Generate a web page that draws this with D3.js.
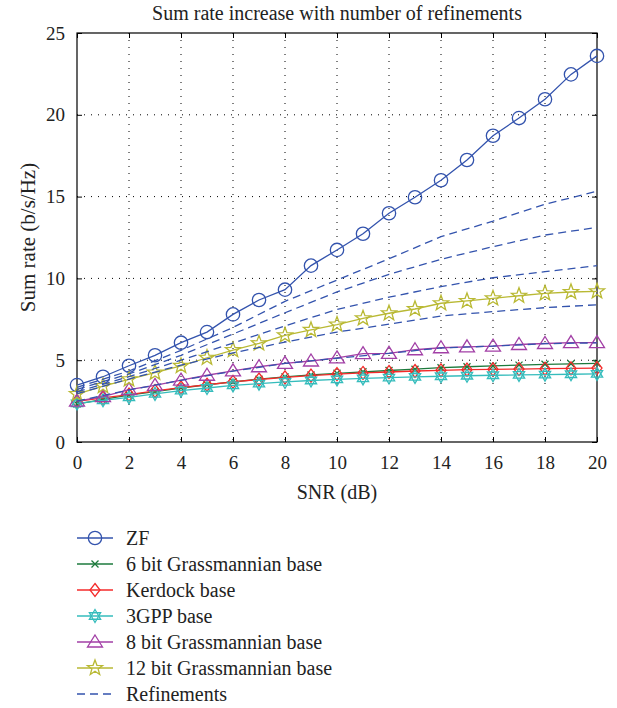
<!DOCTYPE html>
<html>
<head>
<meta charset="utf-8">
<script src="https://cdn.jsdelivr.net/npm/d3@7"></script>
<style>
  body { margin: 0; background: #fff; }
  svg text { font-family: "Liberation Serif", "Times New Roman", Times, "DejaVu Serif", "Noto Serif", serif !important; fill: #222; }
</style>
</head>
<body>
<div id="chart"></div>
<script>
// SNR points (dB)
const snr = d3.range(0, 21);
const snrEven = d3.range(0, 21, 2);

// base codebooks
const zf = [3.48, 3.99, 4.66, 5.3, 6.07, 6.72, 7.8, 8.68, 9.31, 10.78, 11.74, 12.73, 13.98, 14.96, 16.0, 17.24, 18.72, 19.8, 20.95, 22.47, 23.6];
const grass6 = [2.32, 2.6, 2.86, 3.08, 3.3, 3.5, 3.68, 3.84, 3.98, 4.1, 4.2, 4.29, 4.37, 4.45, 4.54, 4.6, 4.65, 4.7, 4.75, 4.78, 4.81];
const kerdock = [2.48, 2.7, 2.9, 3.12, 3.33, 3.5, 3.68, 3.82, 3.95, 4.06, 4.15, 4.22, 4.28, 4.34, 4.38, 4.42, 4.44, 4.46, 4.48, 4.5, 4.52];
const gpp3 = [2.36, 2.55, 2.73, 2.94, 3.14, 3.3, 3.46, 3.57, 3.67, 3.76, 3.83, 3.89, 3.94, 3.98, 4.02, 4.05, 4.08, 4.1, 4.12, 4.14, 4.16];
const grass8 = [2.5, 2.77, 3.2, 3.46, 3.78, 4.08, 4.35, 4.6, 4.81, 4.95, 5.14, 5.4, 5.42, 5.64, 5.76, 5.82, 5.86, 5.96, 6.02, 6.08, 6.08];
const grass12 = [2.93, 3.42, 3.83, 4.24, 4.65, 5.15, 5.62, 6.03, 6.52, 6.85, 7.18, 7.56, 7.87, 8.13, 8.48, 8.62, 8.78, 8.94, 9.09, 9.17, 9.21];

// refinements (dashed), read at even SNR
const ref1 = [3.34, 4.34, 5.6, 7.0, 8.6, 9.9, 11.2, 12.55, 13.5, 14.53, 15.33];
const ref2 = [3.22, 4.16, 5.3, 6.6, 7.9, 9.17, 10.25, 11.17, 11.94, 12.65, 13.12];
const ref3 = [3.07, 3.99, 5.0, 6.05, 7.1, 8.1, 8.85, 9.5, 10.04, 10.41, 10.78];
const ref4 = [2.95, 3.85, 4.7, 5.45, 6.1, 6.72, 7.2, 7.7, 7.97, 8.21, 8.39];
const ref5 = [2.5, 3.18, 3.77, 4.33, 4.8, 5.12, 5.42, 5.75, 5.86, 6.01, 6.06];

const xTicks = d3.range(0, 21, 2);
const yTicks = [0, 5, 10, 15, 20, 25];

const seriesNames = ['ZF', '6 bit Grassmannian base', 'Kerdock base', '3GPP base', '8 bit Grassmannian base', '12 bit Grassmannian base', 'Refinements'];

const FONT = '"Liberation Serif", "Times New Roman", Times, "DejaVu Serif", serif';

const Chart = {
  init() {
    this.wrapper = document.querySelector('#chart');
    this.setVar();
    this.create();
    this.scales();
    this.axis();
    this.createSeries();
    this.createLegend();
  },

  setVar() {
    this.blue = '#3353ad';
    this.green = '#1d7a3c';
    this.red = '#f42a2a';
    this.cyan = '#35bcbc';
    this.purple = '#a23fa6';
    this.olive = '#b9b934';

    this.margin = { left: 77, right: 20, top: 33, bottom: 266 };
    this.fullWidth = 617;
    this.fullHeight = 708;
    this.width = this.fullWidth - this.margin.left - this.margin.right;
    this.height = this.fullHeight - this.margin.top - this.margin.bottom;
  },

  create() {
    this.svg = d3.select('#chart').append('svg')
      .attr('width', this.fullWidth)
      .attr('height', this.fullHeight)
      .attr('font-family', FONT);

    this.g = this.svg.append('g')
      .attr('transform', `translate(${this.margin.left} ${this.margin.top})`);
  },

  scales() {
    this.x = d3.scaleLinear().domain([0, 20]).range([0, this.width]);
    this.y = d3.scaleLinear().domain([0, 25]).range([this.height, 0]);
  },

  axis() {
    const { x, y, width, height } = this;

    // dotted grid
    const grid = this.g.append('g').attr('class', 'grid');
    grid.selectAll('.gx').data(xTicks.slice(1, -1)).join('line')
      .attr('x1', (d) => x(d)).attr('x2', (d) => x(d))
      .attr('y1', 0).attr('y2', height);
    grid.selectAll('.gy').data(yTicks.slice(1, -1)).join('line')
      .attr('class', 'gy')
      .attr('x1', 0).attr('x2', width)
      .attr('y1', (d) => y(d)).attr('y2', (d) => y(d));
    grid.selectAll('line')
      .attr('stroke', '#000')
      .attr('stroke-width', 1)
      .attr('stroke-dasharray', '1,6');

    // axes with ticks pointing inward
    const ax = d3.axisBottom(x).tickValues(xTicks).tickSize(-5).tickPadding(14);
    const axCall = this.g.append('g').attr('transform', `translate(0, ${height})`).call(ax);
    const axTop = this.g.append('g').call(d3.axisTop(x).tickValues(xTicks).tickSize(-5).tickFormat(''));
    const ay = d3.axisLeft(y).tickValues(yTicks).tickSize(-5).tickPadding(12);
    const ayCall = this.g.append('g').call(ay);
    const ayRight = this.g.append('g').attr('transform', `translate(${width}, 0)`)
      .call(d3.axisRight(y).tickValues(yTicks).tickSize(-5).tickFormat(''));

    [axCall, axTop, ayCall, ayRight].forEach((a) => {
      a.attr('font-family', FONT);
      a.select('.domain').remove();
      a.selectAll('line').attr('stroke', '#000');
      a.selectAll('text')
        .attr('font-size', '19px')
        .attr('fill', '#222');
    });

    this.g.append('rect')
      .attr('width', width)
      .attr('height', height)
      .attr('fill', 'none')
      .attr('stroke', '#000')
      .attr('stroke-width', 1.2);

    this.g.append('text')
      .attr('x', width / 2)
      .attr('y', -13)
      .attr('text-anchor', 'middle')
      .attr('font-size', '20px')
      .text('Sum rate increase with number of refinements');

    this.g.append('text')
      .attr('x', width / 2)
      .attr('y', height + 57)
      .attr('text-anchor', 'middle')
      .attr('font-size', '20px')
      .text('SNR (dB)');

    this.g.append('text')
      .attr('transform', `translate(-42, ${height / 2}) rotate(-90)`)
      .attr('text-anchor', 'middle')
      .attr('font-size', '21px')
      .text('Sum rate (b/s/Hz)');
  },

  markerPath(type) {
    if (type === 'circle') return d3.symbol(d3.symbolCircle, 140)();
    if (type === 'diamond') {
      return 'M0,-6.5L5,0L0,6.5L-5,0Z';
    }
    if (type === 'triangle') return 'M0,-7L7.5,5L-7.5,5Z';
    if (type === 'x') return 'M-3.5,-3.5L3.5,3.5M-3.5,3.5L3.5,-3.5';
    if (type === 'star') {
      const pts = d3.range(10).map((i) => {
        const r = i % 2 === 0 ? 8 : 3.3;
        const a = -Math.PI / 2 + i * Math.PI / 5;
        return [r * Math.cos(a), r * Math.sin(a)];
      });
      return `M${pts.join('L')}Z`;
    }
    if (type === 'hexagram') {
      const r = 6.5;
      const tri = (off) => d3.range(3).map((i) => {
        const a = off + i * 2 * Math.PI / 3;
        return [r * Math.cos(a), r * Math.sin(a)];
      });
      return `M${tri(-Math.PI / 2).join('L')}Z M${tri(Math.PI / 2).join('L')}Z`;
    }
    return '';
  },

  drawSeries(xs, values, color, marker, dashed) {
    const line = d3.line()
      .x((d, i) => this.x(xs[i]))
      .y((d) => this.y(d));

    this.g.append('path')
      .attr('d', line(values))
      .attr('fill', 'none')
      .attr('stroke', color)
      .attr('stroke-width', 1.3)
      .attr('stroke-dasharray', dashed ? '8,5' : null);

    if (marker) {
      this.g.append('g').selectAll('path').data(values).join('path')
        .attr('transform', (d, i) => `translate(${this.x(xs[i])}, ${this.y(d)})`)
        .attr('d', this.markerPath(marker))
        .attr('fill', 'none')
        .attr('stroke', color)
        .attr('stroke-width', 1.3);
    }
  },

  createSeries() {
    this.series = [
      { values: zf, color: this.blue, marker: 'circle' },
      { values: grass6, color: this.green, marker: 'x' },
      { values: kerdock, color: this.red, marker: 'diamond' },
      { values: gpp3, color: this.cyan, marker: 'hexagram' },
      { values: grass8, color: this.purple, marker: 'triangle' },
      { values: grass12, color: this.olive, marker: 'star' },
    ];

    this.series.forEach((s) => this.drawSeries(snr, s.values, s.color, s.marker, false));

    [ref1, ref2, ref3, ref4, ref5].forEach((r) => this.drawSeries(snrEven, r, this.blue, null, true));
  },

  createLegend() {
    const items = this.series.map((s, i) => ({ name: seriesNames[i], color: s.color, marker: s.marker, dashed: false }));
    items.push({ name: seriesNames[6], color: this.blue, marker: null, dashed: true });

    const legend = this.svg.append('g').attr('transform', 'translate(77, 538)');

    const row = legend.selectAll('g').data(items).join('g')
      .attr('transform', (d, i) => `translate(0, ${i * 26})`);

    row.append('line')
      .attr('x1', 0).attr('x2', 36)
      .attr('stroke', (d) => d.color)
      .attr('stroke-width', 1.3)
      .attr('stroke-dasharray', (d) => (d.dashed ? '8,5' : null));

    row.filter((d) => d.marker).append('path')
      .attr('transform', 'translate(18, 0)')
      .attr('d', (d) => this.markerPath(d.marker))
      .attr('fill', 'none')
      .attr('stroke', (d) => d.color)
      .attr('stroke-width', 1.3);

    row.append('text')
      .attr('x', 49)
      .attr('dy', '0.35em')
      .attr('font-size', '20px')
      .text((d) => d.name);
  },
};

Chart.init();
</script>
</body>
</html>
